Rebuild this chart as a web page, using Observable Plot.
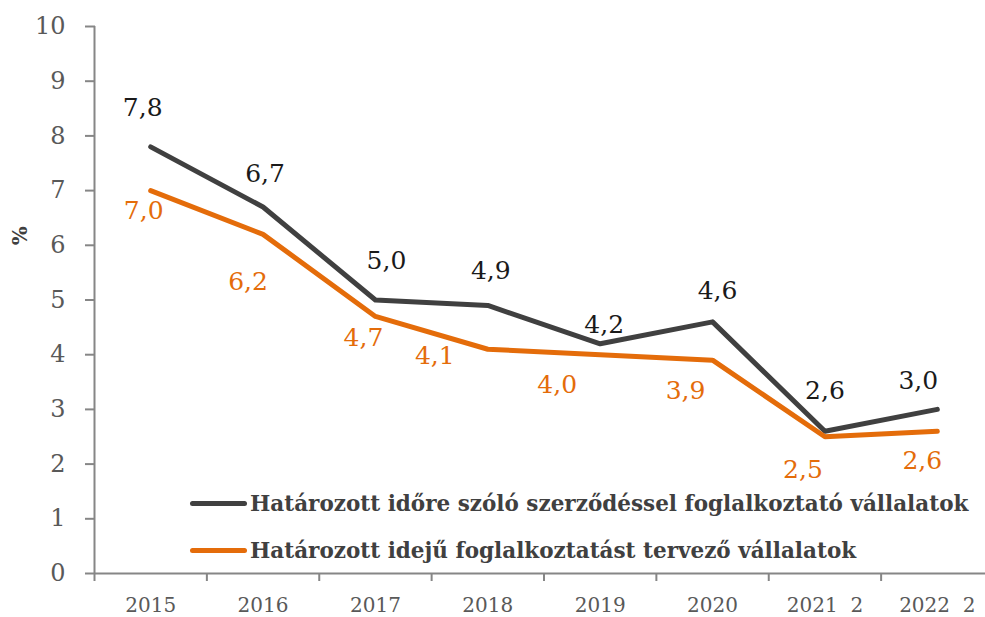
<!DOCTYPE html>
<html>
<head>
<meta charset="utf-8">
<script src="https://cdn.jsdelivr.net/npm/d3@7"></script>
<script src="https://cdn.jsdelivr.net/npm/@observablehq/plot@0.6"></script>
<style>
  body { margin: 0; background: #fff; }
  #chart { position: relative; width: 985px; height: 617px; overflow: hidden; }
  .legend { position: absolute; left: 190px; top: 480px; font-family: "DejaVu Serif", serif; font-weight: bold; font-size: 21.5px; color: #404040; }
  .legend .row { display: flex; align-items: center; height: 47px; white-space: nowrap; }
  .legend .sw { width: 57px; height: 5px; border-radius: 3px; margin-right: 3px; }
</style>
</head>
<body>
<div id="chart"></div>
<script>
// Share of firms (%) by year
const years = [2015, 2016, 2017, 2018, 2019, 2020, 2021, 2022];
const xLabels = ["2015", "2016", "2017", "2018", "2019", "2020", "2021\u00a0\u00a02", "2022\u00a0\u00a02"];
const fixedTermShare = [7.8, 6.7, 5.0, 4.9, 4.2, 4.6, 2.6, 3.0];
const plannedShare = [7.0, 6.2, 4.7, 4.1, 4.0, 3.9, 2.5, 2.6];
const yTicks = [0, 1, 2, 3, 4, 5, 6, 7, 8, 9, 10];
const seriesNames = [
  "Határozott időre szóló szerződéssel foglalkoztató vállalatok",
  "Határozott idejű foglalkoztatást tervező vállalatok"
];
const seriesColors = ["#404040", "#e46c0a"];

// value label placement, pixel offsets from each point
const fixedTermLabelOffsets = [[-8, -39], [2, -33], [11, -39], [3, -34], [4, -19], [5, -31], [0, -40], [-19, -28]];
const plannedLabelOffsets = [[-7, 20], [-15, 48], [-12, 22], [-53, 7], [-43, 30], [-27, 31], [-22, 33], [-15, 30]];

const rows = years.map((year, i) => ({year, fixed: fixedTermShare[i], planned: plannedShare[i]}));
const boundaries = years.map(y => y - 0.5).concat([years[years.length - 1] + 0.5]);
const fmt = v => v.toFixed(1).replace(".", ",");

const valueLabels = (key, offsets, fill) => rows.map((d, i) =>
  Plot.text([d], {
    x: "year", y: key, text: r => fmt(r[key]),
    dx: offsets[i][0], dy: offsets[i][1],
    fill, fontSize: 25, textAnchor: "middle", lineAnchor: "middle"
  })
);

const chart = Plot.plot({
  width: 985,
  height: 617,
  marginLeft: 95,
  marginRight: 0,
  marginTop: 26,
  marginBottom: 44,
  style: {fontFamily: '"DejaVu Serif", serif', background: "white", overflow: "hidden"},
  x: {type: "linear", domain: [2014.5, 2022.5], range: [94, 993]},
  y: {domain: [0, 10]},
  marks: [
    Plot.axisY({ticks: yTicks, tickSize: 10, tickPadding: 20, fontSize: 24, fill: "#595959", stroke: "#868686", strokeWidth: 2, label: null}),
    Plot.axisX({ticks: boundaries, tickSize: 8, tickFormat: () => "", stroke: "#868686", strokeWidth: 2, label: null}),
    Plot.axisX({ticks: years, tickSize: 0, tickPadding: 24, tickFormat: d => xLabels[years.indexOf(d)], fontSize: 20, fill: "#595959", label: null}),
    Plot.ruleX([2014.5], {y1: 0, y2: 10, stroke: "#868686", strokeWidth: 2}),
    Plot.ruleY([0], {x1: 2014.5, x2: 2023, stroke: "#868686", strokeWidth: 2}),
    Plot.line(rows, {x: "year", y: "fixed", stroke: seriesColors[0], strokeWidth: 5, strokeLinecap: "round", strokeLinejoin: "round"}),
    Plot.line(rows, {x: "year", y: "planned", stroke: seriesColors[1], strokeWidth: 5, strokeLinecap: "round", strokeLinejoin: "round"}),
    ...valueLabels("fixed", fixedTermLabelOffsets, "#1a1a1a"),
    ...valueLabels("planned", plannedLabelOffsets, seriesColors[1]),
    Plot.text(["%"], {y: [6], text: d => d, frameAnchor: "left", dx: -75, rotate: -90, fontWeight: "bold", fontSize: 20, fill: "#404040"})
  ]
});

const root = document.getElementById("chart");
root.appendChild(chart);

const legend = document.createElement("div");
legend.className = "legend";
seriesNames.forEach((name, i) => {
  const row = document.createElement("div");
  row.className = "row";
  const sw = document.createElement("span");
  sw.className = "sw";
  sw.style.background = seriesColors[i];
  const label = document.createElement("span");
  label.textContent = name;
  row.appendChild(sw);
  row.appendChild(label);
  legend.appendChild(row);
});
root.appendChild(legend);
</script>
</body>
</html>
